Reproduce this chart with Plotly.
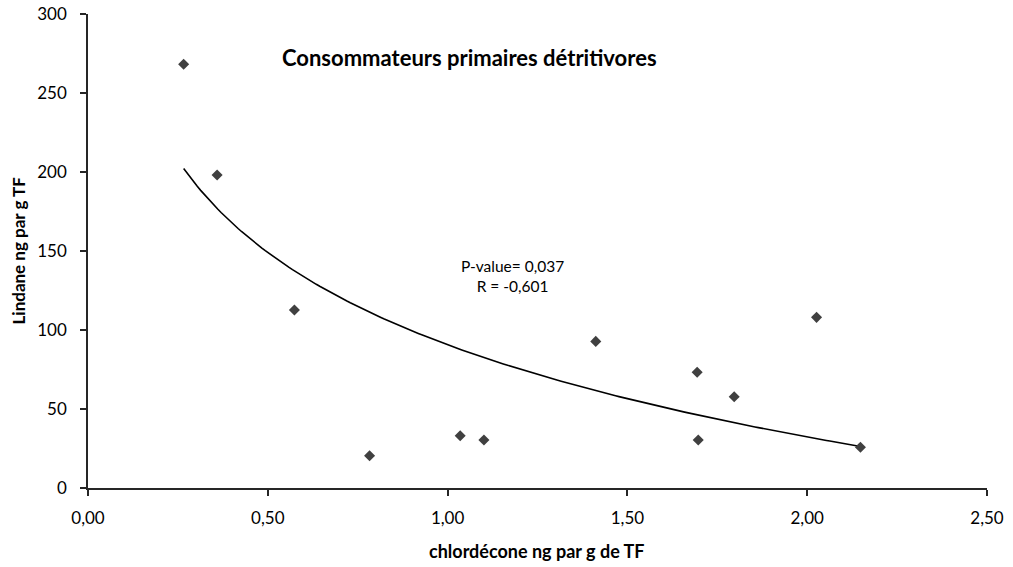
import numpy as np
import plotly.graph_objects as go

# Data
chlordecone = [0.266, 0.359, 0.574, 0.783, 1.035, 1.101, 1.412, 1.694, 1.697, 1.797, 2.026, 2.148]
lindane = [268.2, 198.1, 112.7, 20.4, 33.1, 30.4, 92.8, 73.2, 30.4, 57.8, 108.0, 25.8]

x_ticks = [0, 0.5, 1.0, 1.5, 2.0, 2.5]
x_tick_labels = ["0,00", "0,50", "1,00", "1,50", "2,00", "2,50"]
y_ticks = [0, 50, 100, 150, 200, 250, 300]

title_text = "Consommateurs primaires détritivores"
stats_text = "P-value= 0,037<br>R = -0,601"
x_title = "chlordécone ng par g de TF"
y_title = "Lindane ng par g TF"

# Logarithmic trend line fitted to the data (y = a*ln(x) + b)
xa = np.array(chlordecone)
ya = np.array(lindane)
a, b = np.polyfit(np.log(xa), ya, 1)
xt = np.linspace(xa.min(), xa.max(), 200)
yt = a * np.log(xt) + b

FONT = "Lato, 'Open Sans', sans-serif"

fig = go.Figure()
fig.add_trace(go.Scatter(
    x=xt, y=yt, mode="lines",
    line=dict(color="#000000", width=1.6),
    showlegend=False, hoverinfo="skip",
))
fig.add_trace(go.Scatter(
    x=chlordecone, y=lindane, mode="markers",
    marker=dict(symbol="diamond", size=8.5, color="#404040"),
    showlegend=False,
))

fig.update_layout(
    width=1013, height=567,
    margin=dict(l=87.5, r=25.5, t=14, b=79, autoexpand=False),
    paper_bgcolor="white", plot_bgcolor="white",
    font=dict(family=FONT, size=16, color="#000000"),
    xaxis=dict(
        range=[0, 2.5], tickvals=x_ticks, ticktext=x_tick_labels,
        showgrid=False, zeroline=False, showline=True, automargin=False,
        linecolor="#262626", linewidth=1.5,
        ticks="outside", ticklen=6, tickcolor="#262626", tickwidth=1.5,
        ticklabelstandoff=8,
        tickfont=dict(family=FONT, size=17, color="#000000"),
    ),
    yaxis=dict(
        range=[0, 300], tickvals=y_ticks,
        showgrid=False, zeroline=False, showline=True, automargin=False,
        linecolor="#262626", linewidth=1.5,
        ticks="outside", ticklen=6, tickcolor="#262626", tickwidth=1.5,
        ticklabelstandoff=10,
        tickfont=dict(family=FONT, size=17, color="#000000"),
    ),
    annotations=[
        dict(text="<b>" + title_text + "</b>", xref="paper", yref="paper",
             x=0.424, y=0.909, xanchor="center", yanchor="middle",
             showarrow=False, font=dict(family=FONT, size=22, color="#000000")),
        dict(text=stats_text, xref="paper", yref="paper",
             x=0.4717, y=0.447, xanchor="center", yanchor="middle",
             showarrow=False, font=dict(family=FONT, size=15.5, color="#000000")),
        dict(text="<b>" + x_title + "</b>", xref="paper", yref="paper",
             x=0.4994, y=0, yshift=-63, xanchor="center", yanchor="middle",
             showarrow=False, font=dict(family=FONT, size=18, color="#000000")),
        dict(text="<b>" + y_title + "</b>", xref="paper", yref="paper",
             x=0, xshift=-70.5, y=0.5, xanchor="center", yanchor="middle",
             textangle=-90,
             showarrow=False, font=dict(family=FONT, size=17, color="#000000")),
    ],
)

fig.write_html("out.html")
